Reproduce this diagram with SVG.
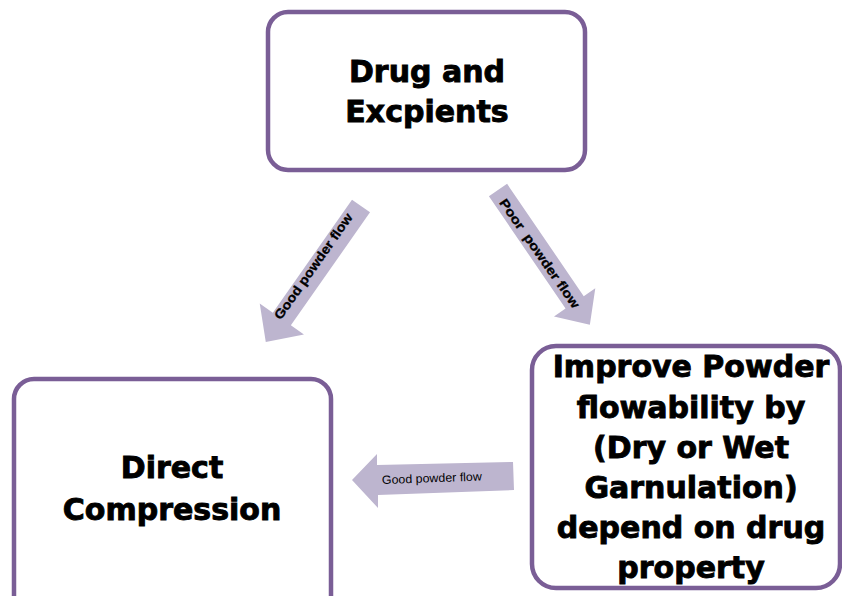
<svg xmlns="http://www.w3.org/2000/svg" width="842" height="596" viewBox="0 0 842 596">
<style>
.box{fill:#ffffff;stroke:#7a5e96;stroke-width:4.5}
.big{font-family:"DejaVu Sans","Liberation Sans",sans-serif;font-weight:bold;font-size:30px;fill:#000;text-anchor:middle;stroke:#000;stroke-width:0.9}
.arr{fill:#bdb5cf}
.lab{font-family:"Liberation Sans",Arial,sans-serif;font-weight:bold;font-size:13px;fill:#000;text-anchor:middle;stroke:#000;stroke-width:0.3}
.lab2{font-family:"Liberation Sans",Arial,sans-serif;font-size:12px;fill:#000}
</style>
<rect width="842" height="596" fill="#ffffff"/>
<g id="connectors">
<g id="arrow-good-left">
<polygon class="arr" transform="translate(361,206) rotate(125)" points="0,-11 138,-11 138,-27 166,0 138,27 138,11 0,11"/>
<text class="lab" transform="translate(317,269) rotate(-55)" textLength="126" lengthAdjust="spacingAndGlyphs">Good powder flow</text>
</g>
<g id="arrow-poor">
<polygon class="arr" transform="translate(498,190) rotate(55.7)" points="0,-11 136,-11 136,-25 163,0 136,25 136,11 0,11"/>
<text class="lab" transform="translate(536,256) rotate(55)" textLength="130" lengthAdjust="spacingAndGlyphs">Poor &#160;powder flow</text>
</g>
<g id="arrow-good-bottom">
<polygon class="arr" points="352,480 377,454 377,465 513,462 514,490 378,495 378,508"/>
<text class="lab2" transform="translate(382,484) rotate(-2)" textLength="100" lengthAdjust="spacingAndGlyphs">Good powder flow</text>
</g>
</g>
<g id="node-drug">
<rect class="box" x="268" y="12" width="317" height="158" rx="20" ry="20"/>
<text class="big" x="427" y="82">Drug and</text>
<text class="big" x="427" y="122">Excpients</text>
</g>
<g id="node-direct">
<rect class="box" x="14" y="379" width="317" height="240" rx="20" ry="20"/>
<text class="big" x="172" y="478">Direct</text>
<text class="big" x="172" y="520">Compression</text>
</g>
<g id="node-improve">
<rect class="box" x="532" y="346" width="308" height="242" rx="24" ry="24"/>
<text class="big" x="691" y="377">Improve Powder</text>
<text class="big" x="691" y="418">flowability by</text>
<text class="big" x="691" y="458">(Dry or Wet</text>
<text class="big" x="691" y="498">Garnulation)</text>
<text class="big" x="691" y="538">depend on drug</text>
<text class="big" x="691" y="578">property</text>
</g>
</svg>
